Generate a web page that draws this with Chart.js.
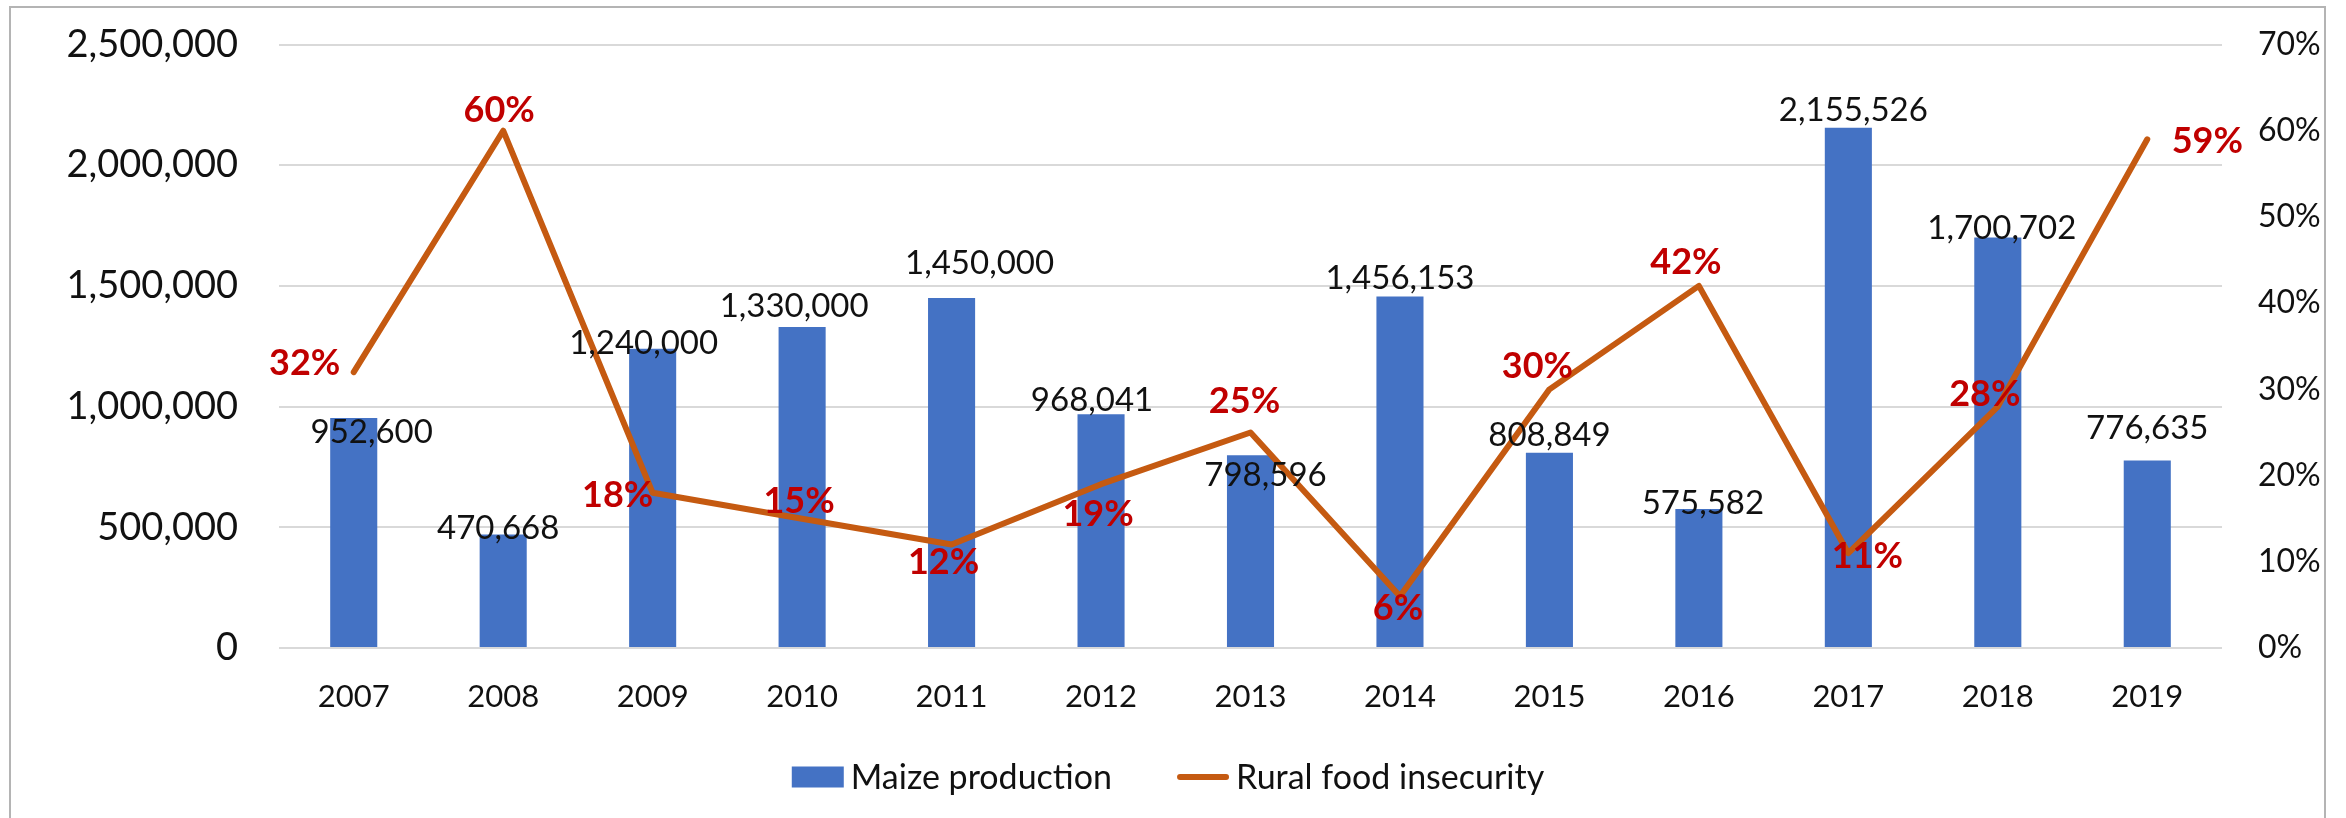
<!DOCTYPE html>
<html>
<head>
<meta charset="utf-8">
<title>Maize production and rural food insecurity</title>
<script src="https://cdn.jsdelivr.net/npm/chart.js@4.4.0/dist/chart.umd.min.js"></script>
<style>
  html, body { margin: 0; padding: 0; background: #fff; }
  #wrap { position: relative; width: 2346px; height: 818px; }
</style>
</head>
<body>
<div id="wrap"><canvas id="chart"></canvas></div>
<script>
// Yearly figures
const years = ['2007', '2008', '2009', '2010', '2011', '2012', '2013', '2014', '2015', '2016', '2017', '2018', '2019'];
const maizeProduction = [952600, 470668, 1240000, 1330000, 1450000, 968041, 798596, 1456153, 808849, 575582, 2155526, 1700702, 776635];
const foodInsecurity = [32, 60, 18, 15, 12, 19, 25, 6, 30, 42, 11, 28, 59];

// Axis ticks
const productionTicks = [0, 500000, 1000000, 1500000, 2000000, 2500000];
const insecurityTicks = [0, 10, 20, 30, 40, 50, 60, 70];

// Hand-placed label nudges [dx, dy] from bar top / line point
const barLabelNudge = [[18, 13], [-5, -7], [-9, -6], [-8, -22], [28, -36], [-9, -15], [15, 19], [0, -19], [0, -18], [4, -7], [5, -18], [4, -10], [0, -33]];
const pctLabelNudge = [[-49, -10], [-4, -21], [-35, 2], [-3, -18], [-8, 17], [-3, 29], [-6, -32], [-2, 11], [-12, -24], [-13, -25], [19, 2], [-13, -13], [60, 1]];

const BLUE = '#4472C4';
const ORANGE = '#C55A11';
const RED = '#C00000';
const INK = '#111111';

// plot box edges and legend row
const PLOT_TOP = 44.5;
const PLOT_BOTTOM = 648;
const LEGEND_Y = 777;
const LEGEND_CENTER_X = 1168;

Chart.defaults.font.family = 'Lato, "Noto Sans", sans-serif';
Chart.defaults.color = INK;

// White background and the grey outer frame
const frame = {
    id: 'frame',
    beforeDraw(chart) {
        const ctx = chart.ctx;
        ctx.save();
        ctx.fillStyle = '#fff';
        ctx.fillRect(0, 0, chart.width, chart.height);
        ctx.strokeStyle = '#b4b4b4';
        ctx.lineWidth = 2;
        ctx.strokeRect(10, 7, 2315, 840);
        ctx.restore();
    }
};

// Value labels for bars and line points
const valueLabels = {
    id: 'valueLabels',
    afterDatasetsDraw(chart) {
        const ctx = chart.ctx;
        ctx.save();
        ctx.textAlign = 'center';
        ctx.textBaseline = 'middle';

        ctx.font = '33px Lato';
        ctx.fillStyle = INK;
        chart.getDatasetMeta(0).data.forEach((bar, i) => {
            const [dx, dy] = barLabelNudge[i];
            ctx.fillText(maizeProduction[i].toLocaleString('en-US'), bar.x + dx, bar.y + dy + 1);
        });

        ctx.font = 'bold 36px Lato';
        ctx.fillStyle = RED;
        chart.getDatasetMeta(1).data.forEach((pt, i) => {
            const [dx, dy] = pctLabelNudge[i];
            ctx.fillText(foodInsecurity[i] + '%', pt.x + dx, pt.y + dy + 1);
        });
        ctx.restore();
    }
};

// Legend row under the axis: swatch, gap, text for each series
const legendRow = {
    id: 'legendRow',
    afterDraw(chart) {
        const ctx = chart.ctx;
        const sets = chart.data.datasets;
        const swatchW = 52, textGap = 7, itemGap = 65;
        ctx.save();
        ctx.font = '34px Lato';
        ctx.textBaseline = 'middle';
        ctx.textAlign = 'left';
        const widths = sets.map(ds => ctx.measureText(ds.label).width);
        const total = widths.reduce((a, w) => a + swatchW + textGap + w, 0) + itemGap * (sets.length - 1);
        let x = LEGEND_CENTER_X - total / 2;
        sets.forEach((ds, i) => {
            if (ds.type === 'bar') {
                ctx.fillStyle = ds.backgroundColor;
                ctx.fillRect(x, LEGEND_Y - 10.5, swatchW, 21);
            } else {
                ctx.strokeStyle = ds.borderColor;
                ctx.lineWidth = ds.borderWidth;
                ctx.lineCap = 'round';
                ctx.beginPath();
                ctx.moveTo(x + 3, LEGEND_Y);
                ctx.lineTo(x + swatchW - 3, LEGEND_Y);
                ctx.stroke();
            }
            x += swatchW + textGap;
            ctx.fillStyle = INK;
            ctx.fillText(ds.label, x, LEGEND_Y + 1);
            x += widths[i] + itemGap;
        });
        ctx.restore();
    }
};

// Value axes: fixed width, and no extra room reserved for the end labels
function fixAxisWidth(width) {
    return s => {
        s.width = width;
        s.paddingTop = 0;
        s.paddingBottom = 0;
    };
}

function createChart() {
    const ctx = document.getElementById('chart').getContext('2d');
    const layoutPadding = { top: PLOT_TOP, left: 0, right: 0, bottom: 818 - PLOT_BOTTOM - 88 };
    const chart = new Chart(ctx, {
        data: {
            labels: years,
            datasets: [
                {
                    type: 'bar',
                    label: 'Maize production',
                    data: maizeProduction,
                    backgroundColor: BLUE,
                    borderWidth: 0,
                    yAxisID: 'y',
                    order: 1,
                    categoryPercentage: 1,
                    barPercentage: 0.315
                },
                {
                    type: 'line',
                    label: 'Rural food insecurity',
                    data: foodInsecurity,
                    borderColor: ORANGE,
                    backgroundColor: ORANGE,
                    borderWidth: 6,
                    borderCapStyle: 'round',
                    borderJoinStyle: 'round',
                    pointRadius: 0,
                    tension: 0,
                    yAxisID: 'y1',
                    order: 0
                }
            ]
        },
        options: {
            responsive: true,
            maintainAspectRatio: false,
            devicePixelRatio: 1,
            animation: false,
            events: [],
            layout: { padding: layoutPadding },
            plugins: {
                tooltip: { enabled: false },
                legend: { display: false }
            },
            scales: {
                x: {
                    grid: { display: false, drawTicks: false },
                    border: { display: false },
                    ticks: { padding: 30, color: INK, font: { size: 31 } },
                    afterFit: s => { s.height = 88; }
                },
                y: {
                    position: 'left',
                    min: productionTicks[0],
                    max: productionTicks[productionTicks.length - 1],
                    afterBuildTicks: s => { s.ticks = productionTicks.map(value => ({ value })); },
                    afterFit: fixAxisWidth(279),
                    grid: { color: '#d9d9d9', lineWidth: 2, drawTicks: false },
                    border: { display: false },
                    ticks: {
                        padding: 41,
                        color: INK,
                        font: { size: 38 },
                        callback: v => v.toLocaleString('en-US')
                    }
                },
                y1: {
                    position: 'right',
                    min: insecurityTicks[0],
                    max: insecurityTicks[insecurityTicks.length - 1],
                    afterBuildTicks: s => { s.ticks = insecurityTicks.map(value => ({ value })); },
                    afterFit: fixAxisWidth(124),
                    grid: { display: false, drawTicks: false },
                    border: { display: false },
                    ticks: {
                        padding: 36,
                        color: INK,
                        font: { size: 32 },
                        callback: v => v + '%'
                    }
                }
            }
        },
        plugins: [frame, valueLabels, legendRow]
    });

    // Pull the plot box onto its intended top/bottom edges
    for (let pass = 0; pass < 4; pass++) {
        const ys = chart.scales.y;
        const dTop = PLOT_TOP - ys.getPixelForValue(productionTicks[productionTicks.length - 1]);
        const dBottom = ys.getPixelForValue(productionTicks[0]) - PLOT_BOTTOM;
        if (Math.abs(dTop) < 0.5 && Math.abs(dBottom) < 0.5) break;
        layoutPadding.top = Math.max(0, layoutPadding.top + dTop);
        layoutPadding.bottom = Math.max(0, layoutPadding.bottom + dBottom);
        chart.config.options.layout.padding = { ...layoutPadding };
        chart.update();
    }
}

document.addEventListener('DOMContentLoaded', createChart);
</script>
</body>
</html>
